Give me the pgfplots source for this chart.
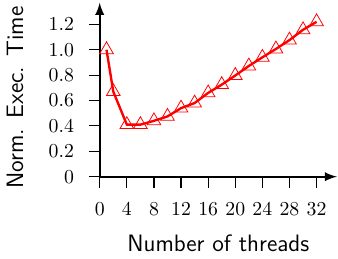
\documentclass[border=0pt]{standalone}
\usepackage{pgfplots}
\pgfplotsset{compat=1.18}
\begin{document}
\begin{tikzpicture}
\begin{axis}[
  scale only axis,
  width=120pt, height=88pt,
  axis lines=left,
  axis line style={line width=1.1pt,-latex},
  xmin=0, xmax=35, ymin=0, ymax=1.37,
  xtick={0,4,...,32},
  ytick={0,0.2,...,1.2},
  yticklabels={0,0.2,0.4,0.6,0.8,1.0,1.2},
  tick align=outside,
  tick style={semithick,black},
  major tick length=5.5pt,
  xticklabel style={yshift=-4pt},
  yticklabel style={xshift=-4pt},
  xlabel={\large\sffamily Number of threads},
  ylabel={\large\sffamily Norm. Exec. Time},
  xlabel style={yshift=-3pt},
  ylabel style={yshift=6pt, xshift=-4pt},
]
\addplot[red, very thick, mark=triangle, mark size=4pt, mark options={fill=white, thin, red}]
coordinates {(1,1.0) (2,0.67) (4,0.41) (6,0.41) (8,0.44) (10,0.475) (12,0.54) (14,0.58) (16,0.66) (18,0.725) (20,0.797) (22,0.872) (24,0.94) (26,1.006) (28,1.076) (30,1.157) (32,1.22)};
\end{axis}
\end{tikzpicture}
\end{document}
